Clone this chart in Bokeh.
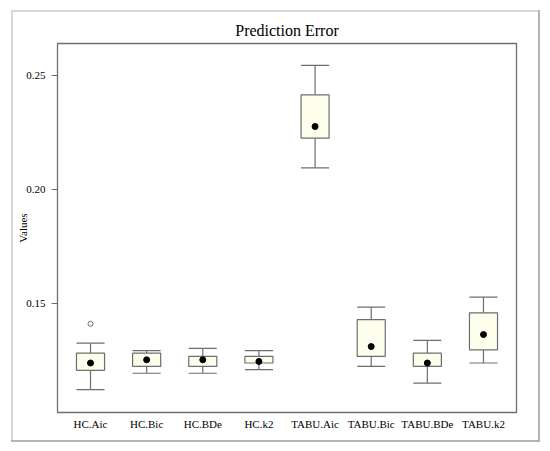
from bokeh.plotting import figure
from bokeh.models import Range1d, FixedTicker, PrintfTickFormatter, InlineStyleSheet
from bokeh.embed import file_html
from bokeh.resources import INLINE

# ---- data ----
categories = ["HC.Aic", "HC.Bic", "HC.BDe", "HC.k2",
              "TABU.Aic", "TABU.Bic", "TABU.BDe", "TABU.k2"]
lower  = [0.1122, 0.1194, 0.1194, 0.1210, 0.2095, 0.1224, 0.1151, 0.1239]
q1     = [0.1207, 0.1224, 0.1224, 0.1239, 0.2225, 0.1268, 0.1224, 0.1297]
median = [0.1239, 0.1253, 0.1253, 0.1246, 0.2276, 0.1311, 0.1239, 0.1364]
q3     = [0.1282, 0.1282, 0.1268, 0.1268, 0.2415, 0.1429, 0.1282, 0.1459]
upper  = [0.1326, 0.1293, 0.1303, 0.1293, 0.2544, 0.1484, 0.1338, 0.1528]
outlier_cat = ["HC.Aic"]
outlier_val = [0.1411]
y_ticks = [0.15, 0.20, 0.25]

pos = [i + 1 for i in range(len(categories))]
opos = [categories.index(c) + 1 for c in outlier_cat]
half = 0.25

SERIF = "Liberation Serif"
GRAY = "#6e6e6e"

p = figure(width=543, height=446, output_backend="svg", toolbar_location=None,
           x_range=Range1d(0.412, 8.588), y_range=Range1d(0.1022, 0.2640),
           min_border_left=57, min_border_right=27, min_border_top=43,
           min_border_bottom=34, title="Prediction Error")
p.border_fill_color = None
p.background_fill_color = "white"
p.stylesheets = [InlineStyleSheet(css=(
    ":host { background: white; box-shadow: "
    "inset 4px 3px 0 7px white, "
    "inset -5px -6px 0 0 #b4b4b4, "
    "inset 4px 3px 0 9px #d8d8d8; }"))]

p.title.align = "center"
p.title.text_font = SERIF
p.title.text_font_size = "16px"
p.title.text_font_style = "normal"
p.title.text_color = "black"

p.outline_line_color = GRAY
p.outline_line_width = 1.3
p.xgrid.visible = False
p.ygrid.visible = False

# y axis
p.yaxis.ticker = FixedTicker(ticks=y_ticks)
p.yaxis.formatter = PrintfTickFormatter(format="%.2f")
p.yaxis.axis_line_color = None
p.yaxis.major_tick_line_color = GRAY
p.yaxis.major_tick_out = 6
p.yaxis.major_tick_in = 0
p.yaxis.minor_tick_line_color = None
p.yaxis.major_label_text_font = SERIF
p.yaxis.major_label_text_font_size = "11px"
p.yaxis.major_label_text_color = "black"
p.yaxis.major_label_standoff = 6
p.yaxis.axis_label = "Values"
p.yaxis.axis_label_text_font = SERIF
p.yaxis.axis_label_text_font_size = "11px"
p.yaxis.axis_label_text_font_style = "normal"
p.yaxis.axis_label_text_color = "black"
p.yaxis.axis_label_standoff = -6

# x axis
p.xaxis.ticker = FixedTicker(ticks=pos)
p.xaxis.major_label_overrides = {k: c for k, c in zip(pos, categories)}
p.xaxis.axis_line_color = None
p.xaxis.major_tick_line_color = None
p.xaxis.major_tick_out = 0
p.xaxis.major_tick_in = 0
p.xaxis.minor_tick_line_color = None
p.xaxis.major_label_text_font = SERIF
p.xaxis.major_label_text_font_size = "11px"
p.xaxis.major_label_text_color = "black"
p.xaxis.major_label_standoff = 5

# whiskers
p.segment(x0=pos, y0=q3, x1=pos, y1=upper, line_color=GRAY, line_width=1.2)
p.segment(x0=pos, y0=q1, x1=pos, y1=lower, line_color=GRAY, line_width=1.2)
# caps
p.segment(x0=[x - half for x in pos], y0=upper, x1=[x + half for x in pos], y1=upper,
          line_color=GRAY, line_width=1.2)
p.segment(x0=[x - half for x in pos], y0=lower, x1=[x + half for x in pos], y1=lower,
          line_color=GRAY, line_width=1.2)
# boxes
p.vbar(x=pos, width=2 * half, bottom=q1, top=q3, fill_color="#fefeec",
       line_color=GRAY, line_width=1.2)
# medians as dots
p.scatter(x=pos, y=median, size=6, marker="circle", fill_color="black", line_color="black")
# outliers
p.scatter(x=opos, y=outlier_val, size=5, marker="circle", fill_color=None,
          line_color=GRAY, line_width=1)

open("out.html", "w").write(file_html(p, INLINE))
